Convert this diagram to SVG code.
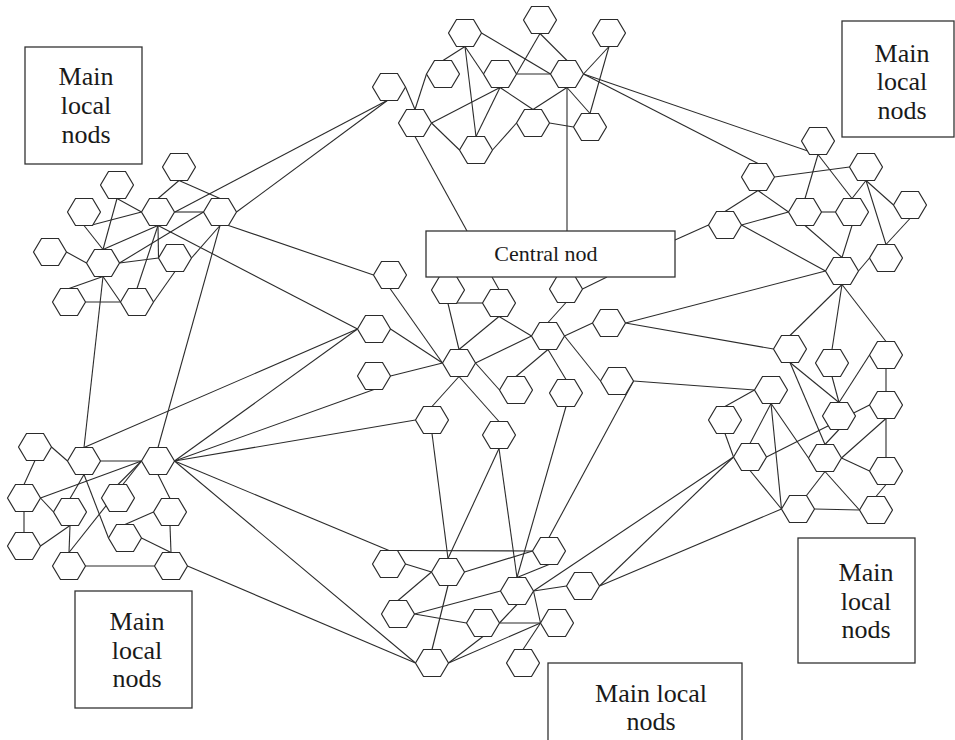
<svg xmlns="http://www.w3.org/2000/svg" xmlns:xlink="http://www.w3.org/1999/xlink" width="955" height="740" viewBox="0 0 955 740">
<style>
.e line{stroke:#2b2b2b;stroke-width:1.1;fill:none}
.h{fill:#fff;stroke:#2b2b2b;stroke-width:1.2}
.b{fill:#fff;stroke:#333;stroke-width:1.3}
.t{font-family:"Liberation Serif","Times New Roman",serif;font-size:26px;fill:#1a1a1a;text-anchor:middle}
.c{font-family:"Liberation Serif","Times New Roman",serif;font-size:22px;fill:#1a1a1a;text-anchor:middle}
</style>
<defs>
<polygon id="hx" class="h" points="-16.5,0 -8.5,-13.5 8.5,-13.5 16.5,0 8.5,13.5 -8.5,13.5"/>
</defs>
<rect width="955" height="740" fill="#fff"/>
<g id="connectors" class="e">
<line x1="175" y1="212" x2="388" y2="100"/>
<line x1="236.5" y1="212" x2="388" y2="100"/>
<line x1="405.5" y1="87" x2="415" y2="109.5"/>
<line x1="426.5" y1="74" x2="415" y2="109.5"/>
<line x1="465" y1="46.5" x2="443" y2="60.5"/>
<line x1="465" y1="46.5" x2="476" y2="136.5"/>
<line x1="465" y1="46.5" x2="483.5" y2="74"/>
<line x1="481.5" y1="33" x2="550.5" y2="74"/>
<line x1="540" y1="33.5" x2="516.5" y2="74"/>
<line x1="540" y1="33.5" x2="567" y2="60.5"/>
<line x1="609" y1="46.5" x2="583.5" y2="74"/>
<line x1="609" y1="46.5" x2="590" y2="113.5"/>
<line x1="516.5" y1="74" x2="550.5" y2="74"/>
<line x1="431.5" y1="123" x2="500" y2="87.5"/>
<line x1="431.5" y1="123" x2="459.5" y2="150"/>
<line x1="476" y1="136.5" x2="500" y2="87.5"/>
<line x1="500" y1="87.5" x2="533" y2="109.5"/>
<line x1="492.5" y1="150" x2="516.5" y2="123"/>
<line x1="567" y1="87.5" x2="533" y2="109.5"/>
<line x1="567" y1="87.5" x2="590" y2="113.5"/>
<line x1="549.5" y1="123" x2="573.5" y2="127"/>
<line x1="567" y1="87.5" x2="567" y2="231"/>
<line x1="415" y1="136.5" x2="467" y2="231"/>
<line x1="583.5" y1="74" x2="818" y2="154.5"/>
<line x1="583.5" y1="74" x2="758" y2="163.5"/>
<line x1="179" y1="180.5" x2="158" y2="198.5"/>
<line x1="179" y1="180.5" x2="220" y2="198.5"/>
<line x1="117" y1="198.5" x2="141.5" y2="212"/>
<line x1="117" y1="198.5" x2="103" y2="249.5"/>
<line x1="90" y1="225.5" x2="141.5" y2="212"/>
<line x1="84" y1="225.5" x2="103" y2="249.5"/>
<line x1="174.5" y1="212" x2="203.5" y2="212"/>
<line x1="158" y1="225.5" x2="103" y2="249.5"/>
<line x1="158" y1="225.5" x2="158.5" y2="258"/>
<line x1="119.5" y1="263" x2="158.5" y2="258"/>
<line x1="158" y1="225.5" x2="137" y2="288.5"/>
<line x1="158" y1="225.5" x2="357.5" y2="329"/>
<line x1="228.5" y1="225.5" x2="373.5" y2="275"/>
<line x1="203.5" y1="212" x2="119.5" y2="263"/>
<line x1="220" y1="225.5" x2="191.5" y2="258"/>
<line x1="220" y1="225.5" x2="158" y2="447.5"/>
<line x1="103" y1="276.5" x2="84" y2="447.5"/>
<line x1="103" y1="276.5" x2="69" y2="288.5"/>
<line x1="103" y1="276.5" x2="120.5" y2="302"/>
<line x1="85.5" y1="302" x2="120.5" y2="302"/>
<line x1="66.5" y1="252" x2="86.5" y2="263"/>
<line x1="175" y1="271.5" x2="153.5" y2="302"/>
<line x1="35" y1="460.5" x2="24" y2="484.5"/>
<line x1="51.5" y1="447" x2="67.5" y2="461"/>
<line x1="84" y1="447.5" x2="357.5" y2="329"/>
<line x1="100.5" y1="461" x2="141.5" y2="461"/>
<line x1="174.5" y1="461" x2="357.5" y2="329"/>
<line x1="174.5" y1="461" x2="374" y2="389.5"/>
<line x1="174.5" y1="461" x2="415.5" y2="420"/>
<line x1="174.5" y1="461" x2="389" y2="550.5"/>
<line x1="174.5" y1="461" x2="415.5" y2="663"/>
<line x1="187.5" y1="566" x2="415.5" y2="663"/>
<line x1="40.5" y1="498" x2="141.5" y2="461"/>
<line x1="40.5" y1="498" x2="53.5" y2="512"/>
<line x1="24" y1="511.5" x2="24" y2="532.5"/>
<line x1="40.5" y1="546" x2="70" y2="525.5"/>
<line x1="70" y1="525.5" x2="69" y2="552.5"/>
<line x1="69" y1="552.5" x2="141.5" y2="461"/>
<line x1="85.5" y1="566" x2="154.5" y2="566"/>
<line x1="125" y1="524.5" x2="153.5" y2="512"/>
<line x1="141.5" y1="538" x2="171" y2="552.5"/>
<line x1="170" y1="525.5" x2="171" y2="552.5"/>
<line x1="158" y1="474.5" x2="170" y2="498.5"/>
<line x1="141.5" y1="461" x2="118" y2="484.5"/>
<line x1="84" y1="474.5" x2="108.5" y2="538"/>
<line x1="84" y1="474.5" x2="70" y2="498.5"/>
<line x1="818" y1="154.5" x2="805" y2="198.5"/>
<line x1="818" y1="154.5" x2="852" y2="198.5"/>
<line x1="849.5" y1="167" x2="774.5" y2="177"/>
<line x1="866" y1="180.5" x2="852" y2="198.5"/>
<line x1="866" y1="180.5" x2="893.5" y2="205"/>
<line x1="866" y1="180.5" x2="886" y2="244.5"/>
<line x1="758" y1="190.5" x2="725" y2="211.5"/>
<line x1="758" y1="190.5" x2="788.5" y2="212"/>
<line x1="741.5" y1="225" x2="788.5" y2="212"/>
<line x1="708.5" y1="225" x2="675" y2="240"/>
<line x1="821.5" y1="212" x2="835.5" y2="212"/>
<line x1="805" y1="225.5" x2="842" y2="257.5"/>
<line x1="852" y1="225.5" x2="842" y2="257.5"/>
<line x1="741.5" y1="225" x2="825.5" y2="271"/>
<line x1="910" y1="218.5" x2="886" y2="244.5"/>
<line x1="869.5" y1="258" x2="858.5" y2="271"/>
<line x1="825.5" y1="271" x2="625.5" y2="323"/>
<line x1="842" y1="284.5" x2="790" y2="335.5"/>
<line x1="842" y1="284.5" x2="832" y2="349.5"/>
<line x1="842" y1="284.5" x2="886" y2="341.5"/>
<line x1="773.5" y1="349" x2="625.5" y2="323"/>
<line x1="790" y1="362.5" x2="839" y2="402.5"/>
<line x1="790" y1="362.5" x2="825" y2="444.5"/>
<line x1="832" y1="376.5" x2="839" y2="402.5"/>
<line x1="886" y1="368.5" x2="886" y2="391.5"/>
<line x1="869.5" y1="355" x2="839" y2="402.5"/>
<line x1="754.5" y1="390" x2="633.5" y2="381"/>
<line x1="754.5" y1="390" x2="725" y2="406.5"/>
<line x1="771" y1="403.5" x2="750" y2="443.5"/>
<line x1="771" y1="403.5" x2="781.5" y2="509"/>
<line x1="771" y1="403.5" x2="808.5" y2="458"/>
<line x1="725" y1="433.5" x2="733.5" y2="457"/>
<line x1="766.5" y1="457" x2="869.5" y2="405"/>
<line x1="750" y1="470.5" x2="781.5" y2="509"/>
<line x1="733.5" y1="457" x2="533.5" y2="591"/>
<line x1="733.5" y1="457" x2="599.5" y2="586"/>
<line x1="839" y1="429.5" x2="825" y2="444.5"/>
<line x1="886" y1="418.5" x2="841.5" y2="458"/>
<line x1="886" y1="418.5" x2="886" y2="457.5"/>
<line x1="841.5" y1="458" x2="869.5" y2="471"/>
<line x1="825" y1="471.5" x2="806.5" y2="495.5"/>
<line x1="825" y1="471.5" x2="859.5" y2="510"/>
<line x1="886" y1="484.5" x2="876" y2="496.5"/>
<line x1="814.5" y1="509" x2="859.5" y2="510"/>
<line x1="781.5" y1="509" x2="599.5" y2="586"/>
<line x1="390" y1="288.5" x2="442.5" y2="363"/>
<line x1="492" y1="277" x2="499" y2="289.5"/>
<line x1="582.5" y1="289" x2="607" y2="277"/>
<line x1="457" y1="303" x2="482.5" y2="303"/>
<line x1="448" y1="303.5" x2="459" y2="349.5"/>
<line x1="499" y1="316.5" x2="459" y2="349.5"/>
<line x1="499" y1="316.5" x2="531.5" y2="336"/>
<line x1="566" y1="302.5" x2="548" y2="322.5"/>
<line x1="390.5" y1="329" x2="442.5" y2="363"/>
<line x1="390.5" y1="376" x2="442.5" y2="363"/>
<line x1="475.5" y1="363" x2="531.5" y2="336"/>
<line x1="475.5" y1="363" x2="499.5" y2="390"/>
<line x1="459" y1="376.5" x2="432" y2="406.5"/>
<line x1="459" y1="376.5" x2="499" y2="421.5"/>
<line x1="548" y1="349.5" x2="516" y2="376.5"/>
<line x1="548" y1="349.5" x2="566" y2="379.5"/>
<line x1="564.5" y1="336" x2="592.5" y2="323"/>
<line x1="564.5" y1="336" x2="600.5" y2="381"/>
<line x1="633.5" y1="381" x2="549" y2="537.5"/>
<line x1="566" y1="406.5" x2="517" y2="577.5"/>
<line x1="432" y1="433.5" x2="448" y2="558.5"/>
<line x1="499" y1="448.5" x2="448" y2="558.5"/>
<line x1="499" y1="448.5" x2="517" y2="577.5"/>
<line x1="397.5" y1="550.5" x2="532.5" y2="551"/>
<line x1="405.5" y1="564" x2="431.5" y2="572"/>
<line x1="464.5" y1="572" x2="532.5" y2="551"/>
<line x1="431.5" y1="572" x2="398" y2="600.5"/>
<line x1="448" y1="585.5" x2="432" y2="649.5"/>
<line x1="549" y1="564.5" x2="517" y2="577.5"/>
<line x1="533.5" y1="591" x2="566.5" y2="586"/>
<line x1="414.5" y1="614" x2="500.5" y2="591"/>
<line x1="414.5" y1="614" x2="466.5" y2="623"/>
<line x1="517" y1="604.5" x2="499.5" y2="623"/>
<line x1="533.5" y1="591" x2="540.5" y2="623"/>
<line x1="499.5" y1="623" x2="540.5" y2="623"/>
<line x1="483" y1="636.5" x2="448.5" y2="663"/>
<line x1="540.5" y1="623" x2="448.5" y2="663"/>
<line x1="540.5" y1="623" x2="523" y2="649.5"/>
</g>
<g id="nodes">
<g id="A1"><use href="#hx" x="179" y="167"/></g>
<g id="A2"><use href="#hx" x="117" y="185"/></g>
<g id="A3"><use href="#hx" x="84" y="212"/></g>
<g id="A4"><use href="#hx" x="158" y="212"/></g>
<g id="A5"><use href="#hx" x="220" y="212"/></g>
<g id="A6"><use href="#hx" x="50" y="252"/></g>
<g id="A7"><use href="#hx" x="103" y="263"/></g>
<g id="A8"><use href="#hx" x="175" y="258"/></g>
<g id="A9"><use href="#hx" x="69" y="302"/></g>
<g id="A10"><use href="#hx" x="137" y="302"/></g>
<g id="B1"><use href="#hx" x="35" y="447"/></g>
<g id="B2"><use href="#hx" x="84" y="461"/></g>
<g id="B3"><use href="#hx" x="158" y="461"/></g>
<g id="B4"><use href="#hx" x="24" y="498"/></g>
<g id="B5"><use href="#hx" x="70" y="512"/></g>
<g id="B6"><use href="#hx" x="118" y="498"/></g>
<g id="B7"><use href="#hx" x="170" y="512"/></g>
<g id="B8"><use href="#hx" x="24" y="546"/></g>
<g id="B9"><use href="#hx" x="125" y="538"/></g>
<g id="B10"><use href="#hx" x="69" y="566"/></g>
<g id="B11"><use href="#hx" x="171" y="566"/></g>
<g id="T1"><use href="#hx" x="465" y="33"/></g>
<g id="T2"><use href="#hx" x="540" y="20"/></g>
<g id="T3"><use href="#hx" x="609" y="33"/></g>
<g id="T4"><use href="#hx" x="443" y="74"/></g>
<g id="T5"><use href="#hx" x="389" y="87"/></g>
<g id="T6"><use href="#hx" x="500" y="74"/></g>
<g id="T7"><use href="#hx" x="567" y="74"/></g>
<g id="T8"><use href="#hx" x="415" y="123"/></g>
<g id="T9"><use href="#hx" x="476" y="150"/></g>
<g id="T10"><use href="#hx" x="533" y="123"/></g>
<g id="T11"><use href="#hx" x="590" y="127"/></g>
<g id="M1"><use href="#hx" x="390" y="275"/></g>
<g id="M2"><use href="#hx" x="448" y="290"/></g>
<g id="M3"><use href="#hx" x="499" y="303"/></g>
<g id="M4"><use href="#hx" x="566" y="289"/></g>
<g id="M5"><use href="#hx" x="374" y="329"/></g>
<g id="M6"><use href="#hx" x="609" y="323"/></g>
<g id="M7"><use href="#hx" x="548" y="336"/></g>
<g id="M8"><use href="#hx" x="459" y="363"/></g>
<g id="M9"><use href="#hx" x="374" y="376"/></g>
<g id="M10"><use href="#hx" x="516" y="390"/></g>
<g id="M11"><use href="#hx" x="566" y="393"/></g>
<g id="M12"><use href="#hx" x="617" y="381"/></g>
<g id="M13"><use href="#hx" x="432" y="420"/></g>
<g id="M14"><use href="#hx" x="499" y="435"/></g>
<g id="R1"><use href="#hx" x="818" y="141"/></g>
<g id="R2"><use href="#hx" x="866" y="167"/></g>
<g id="R3"><use href="#hx" x="758" y="177"/></g>
<g id="R4"><use href="#hx" x="910" y="205"/></g>
<g id="R5"><use href="#hx" x="805" y="212"/></g>
<g id="R6"><use href="#hx" x="852" y="212"/></g>
<g id="R7"><use href="#hx" x="725" y="225"/></g>
<g id="R8"><use href="#hx" x="886" y="258"/></g>
<g id="R9"><use href="#hx" x="842" y="271"/></g>
<g id="R10"><use href="#hx" x="790" y="349"/></g>
<g id="R11"><use href="#hx" x="832" y="363"/></g>
<g id="R12"><use href="#hx" x="886" y="355"/></g>
<g id="R13"><use href="#hx" x="771" y="390"/></g>
<g id="R14"><use href="#hx" x="725" y="420"/></g>
<g id="R15"><use href="#hx" x="839" y="416"/></g>
<g id="R16"><use href="#hx" x="886" y="405"/></g>
<g id="R17"><use href="#hx" x="750" y="457"/></g>
<g id="R18"><use href="#hx" x="825" y="458"/></g>
<g id="R19"><use href="#hx" x="886" y="471"/></g>
<g id="R20"><use href="#hx" x="798" y="509"/></g>
<g id="R21"><use href="#hx" x="876" y="510"/></g>
<g id="C1"><use href="#hx" x="389" y="564"/></g>
<g id="C2"><use href="#hx" x="448" y="572"/></g>
<g id="C3"><use href="#hx" x="549" y="551"/></g>
<g id="C4"><use href="#hx" x="398" y="614"/></g>
<g id="C5"><use href="#hx" x="517" y="591"/></g>
<g id="C6"><use href="#hx" x="583" y="586"/></g>
<g id="C7"><use href="#hx" x="483" y="623"/></g>
<g id="C8"><use href="#hx" x="557" y="623"/></g>
<g id="C9"><use href="#hx" x="432" y="663"/></g>
<g id="C10"><use href="#hx" x="523" y="663"/></g>
<g id="central">
<rect class="b" x="426" y="231" width="249" height="46"/>
<text class="c" x="546" y="261">Central nod</text>
</g>
<g id="main-tl">
<rect class="b" x="25" y="47" width="117" height="117"/>
<text class="t" x="86" y="85">Main</text><text class="t" x="86" y="114">local</text><text class="t" x="86" y="143">nods</text>
</g>
<g id="main-tr">
<rect class="b" x="842" y="21" width="112" height="116"/>
<text class="t" x="902" y="62">Main</text><text class="t" x="902" y="90">local</text><text class="t" x="902" y="119">nods</text>
</g>
<g id="main-bl">
<rect class="b" x="75" y="591" width="117" height="117"/>
<text class="t" x="137" y="630">Main</text><text class="t" x="137" y="659">local</text><text class="t" x="137" y="687">nods</text>
</g>
<g id="main-br">
<rect class="b" x="798" y="538" width="117" height="125"/>
<text class="t" x="866" y="581">Main</text><text class="t" x="866" y="610">local</text><text class="t" x="866" y="638">nods</text>
</g>
<g id="main-bc">
<rect class="b" x="548" y="663" width="194" height="90"/>
<text class="t" x="651" y="702">Main local</text><text class="t" x="651" y="730">nods</text>
</g>
</g>
</svg>
